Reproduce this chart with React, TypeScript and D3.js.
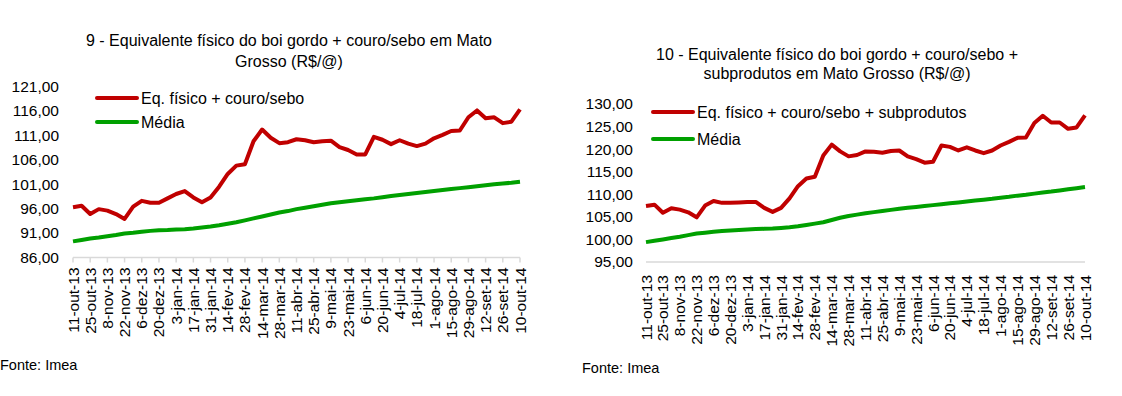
import React, {useEffect, useRef} from 'react'
import * as d3 from 'd3';

// weekly dates, labels every two weeks
const weekLabels = ['11-out-13','25-out-13','8-nov-13','22-nov-13','6-dez-13','20-dez-13','3-jan-14','17-jan-14','31-jan-14','14-fev-14','28-fev-14','14-mar-14','28-mar-14','11-abr-14','25-abr-14','9-mai-14','23-mai-14','6-jun-14','20-jun-14','4-jul-14','18-jul-14','1-ago-14','15-ago-14','29-ago-14','12-set-14','26-set-14','10-out-14'];

// chart 9
const eqCouro = [96.3,96.6,94.9,95.9,95.6,94.9,93.9,96.4,97.6,97.2,97.2,98.1,99.0,99.6,98.3,97.3,98.3,100.5,103.1,104.8,105.1,109.8,112.2,110.5,109.4,109.6,110.2,110.0,109.6,109.8,109.9,108.6,108.0,107.1,107.1,110.7,110.1,109.2,110.0,109.3,108.8,109.3,110.4,111.1,111.9,112.0,114.7,116.1,114.5,114.7,113.5,113.8,116.3];
const mediaCouro = [89.3,89.6,89.9,90.1,90.35,90.6,90.9,91.05,91.25,91.45,91.6,91.65,91.75,91.8,91.95,92.15,92.35,92.6,92.9,93.2,93.6,94.0,94.4,94.8,95.2,95.5,95.9,96.2,96.5,96.8,97.1,97.3,97.5,97.7,97.9,98.1,98.35,98.6,98.8,99.0,99.2,99.4,99.6,99.8,100.0,100.2,100.4,100.6,100.8,101.0,101.15,101.3,101.5];
const ticks9 = [86,91,96,101,106,111,116,121];

// chart 10
const eqSub = [107.4,107.7,105.9,106.9,106.6,106.0,104.9,107.5,108.5,108.1,108.1,108.2,108.3,108.3,107.0,106.1,107.0,109.1,111.8,113.5,113.9,118.6,121.0,119.5,118.4,118.7,119.5,119.4,119.2,119.6,119.7,118.4,117.8,117.0,117.2,120.8,120.5,119.7,120.4,119.7,119.1,119.7,120.8,121.6,122.5,122.6,125.8,127.4,125.9,125.9,124.5,124.8,127.5];
const mediaSub = [99.4,99.7,100.0,100.3,100.6,100.95,101.3,101.5,101.7,101.85,102.0,102.1,102.2,102.3,102.35,102.4,102.55,102.7,102.9,103.2,103.5,103.8,104.3,104.8,105.2,105.5,105.8,106.05,106.3,106.55,106.8,107.0,107.2,107.4,107.6,107.8,108.0,108.2,108.4,108.6,108.8,109.0,109.25,109.45,109.7,109.9,110.15,110.4,110.6,110.85,111.1,111.35,111.6];
const ticks10 = [95,100,105,110,115,120,125,130];

const RED = '#c00000';
const GREEN = '#00a000';
const FONT = '"Liberation Sans", Arial, Helvetica, sans-serif';

function drawChart(svg, cfg){
    const g = svg.append('g');
    const n = cfg.red.length;
    const x = d3.scaleLinear().domain([0, n - 1]).range([cfg.x0, cfg.x1]);
    const y = d3.scaleLinear().domain([cfg.ticks[0], cfg.ticks[cfg.ticks.length - 1]]).range([cfg.y0, cfg.y1]);

    // title
    const title = g.append('text')
        .attr('text-anchor', 'middle')
        .attr('font-size', '16px')
        .attr('font-family', FONT)
        .attr('fill', '#000');
    cfg.title.forEach((t, i) => {
        title.append('tspan').attr('x', cfg.titleX).attr('y', cfg.titleY + i * cfg.titleGap).text(t);
    });

    // y labels
    g.append('g').selectAll('text')
        .data(cfg.ticks)
        .join('text')
        .attr('x', cfg.labelRight)
        .attr('y', d => y(d))
        .attr('dy', '0.35em')
        .attr('text-anchor', 'end')
        .attr('font-size', '15.5px')
        .attr('font-family', FONT)
        .text(d => d3.format('.2f')(d).replace('.', ','));

    // x axis line
    g.append('line')
        .attr('x1', cfg.x0).attr('x2', cfg.x1)
        .attr('y1', cfg.y0).attr('y2', cfg.y0)
        .attr('stroke', '#d9d9d9').attr('stroke-width', 1.5);

    const labelIdx = d3.range(0, n, 2);
    if (cfg.tickMarks){
        g.append('g').selectAll('line')
            .data(labelIdx)
            .join('line')
            .attr('x1', d => x(d)).attr('x2', d => x(d))
            .attr('y1', cfg.y0).attr('y2', cfg.y0 + 5)
            .attr('stroke', '#d9d9d9').attr('stroke-width', 1.5);
    }

    g.append('g').selectAll('text')
        .data(labelIdx)
        .join('text')
        .attr('transform', d => `translate(${x(d) + 5.5},${cfg.y0 + cfg.labelGap}) rotate(-90)`)
        .attr('text-anchor', 'end')
        .attr('font-size', '15.5px')
        .attr('font-family', FONT)
        .text((d, i) => weekLabels[i]);

    const line = d3.line().x((d, i) => x(i)).y(d => y(d));
    g.append('path').datum(cfg.green)
        .attr('d', line).attr('fill', 'none')
        .attr('stroke', GREEN).attr('stroke-width', 4).attr('stroke-linejoin', 'round');
    g.append('path').datum(cfg.red)
        .attr('d', line).attr('fill', 'none')
        .attr('stroke', RED).attr('stroke-width', 4).attr('stroke-linejoin', 'round');

    // legend
    const legend = [{name: cfg.redName, color: RED}, {name: 'Média', color: GREEN}];
    legend.forEach((l, i) => {
        const ly = cfg.legendY + i * cfg.legendGap;
        g.append('line')
            .attr('x1', cfg.legendX).attr('x2', cfg.legendX + 40)
            .attr('y1', ly).attr('y2', ly)
            .attr('stroke', l.color).attr('stroke-width', 4).attr('stroke-linecap', 'round');
        g.append('text')
            .attr('x', cfg.legendX + 44).attr('y', ly)
            .attr('dy', '0.35em')
            .attr('font-size', '16px')
            .attr('font-family', FONT)
            .text(l.name);
    });

    g.append('text')
        .attr('x', cfg.sourceX).attr('y', cfg.sourceY)
        .attr('font-size', '14.5px')
        .attr('font-family', FONT)
        .text('Fonte: Imea');
}

export default function App(){
    const svgRef = useRef(null);

    useEffect(() => {
        const svg = d3.select(svgRef.current);
        svg.selectAll('*').remove();

        drawChart(svg, {
            red: eqCouro, green: mediaCouro, ticks: ticks9,
            x0: 73, x1: 520, y0: 257.5, y1: 86.5,
            title: ['9 - Equivalente físico do boi gordo + couro/sebo em Mato', 'Grosso (R$/@)'],
            titleX: 289, titleY: 46, titleGap: 21,
            labelRight: 59, tickMarks: true, labelGap: 10,
            redName: 'Eq. físico + couro/sebo',
            legendX: 97, legendY: 98, legendGap: 24,
            sourceX: 0, sourceY: 370,
        });

        drawChart(svg, {
            red: eqSub, green: mediaSub, ticks: ticks10,
            x0: 646, x1: 1085, y0: 262, y1: 104,
            title: ['10 - Equivalente físico do boi gordo + couro/sebo +', 'subprodutos em Mato Grosso (R$/@)'],
            titleX: 837, titleY: 60, titleGap: 19,
            labelRight: 633, tickMarks: false, labelGap: 13,
            redName: 'Eq. físico + couro/sebo + subprodutos',
            legendX: 653, legendY: 112, legendGap: 27,
            sourceX: 582, sourceY: 373,
        });
    }, []);

    return (
        <svg
            ref={svgRef}
            width={1122}
            height={396}
            style={{position: 'absolute', left: 0, top: 0, background: '#fff'}}
        />
    );
}
